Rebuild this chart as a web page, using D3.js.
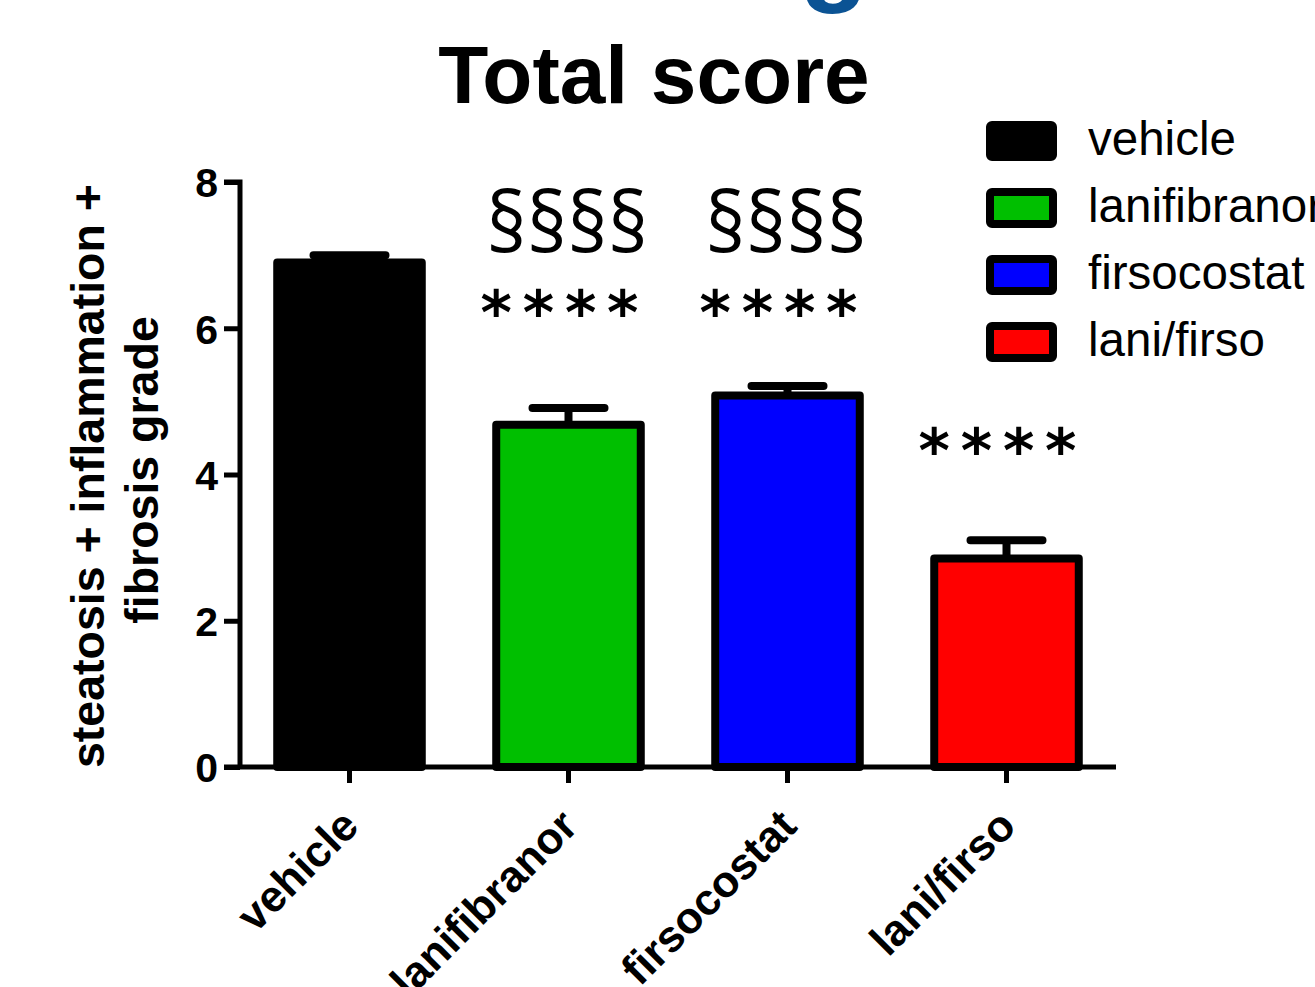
<!DOCTYPE html>
<html>
<head>
<meta charset="utf-8">
<script src="https://cdn.jsdelivr.net/npm/d3@7"></script>
<style>
  html, body { margin: 0; padding: 0; background: #fff; }
  svg { display: block; }
</style>
</head>
<body>
<svg id="chart" width="1315" height="987"></svg>
<script>
// ---- data ----
const categories = ["vehicle", "lanifibranor", "firsocostat", "lani/firso"];
const means = [6.9, 4.68, 5.08, 2.85];
const sems = [0.1, 0.23, 0.13, 0.25];
const colors = ["#000000", "#00bf00", "#0000ff", "#ff0000"];
const yTicks = [0, 2, 4, 6, 8];
const sectionMarks = ["", "§§§§", "§§§§", ""];
const starMarks = ["", "****", "****", "****"];
const sectionLevel = [null, 7.3, 7.3, null];
const starLevel = [null, 6.47, 6.47, 4.58];
const title = "Total score";
const yLabelLines = ["steatosis + inflammation +", "fibrosis grade"];

// ---- layout ----
const svg = d3.select("#chart");
const x0 = 240, x1 = 1116, yBase = 767, yTop = 182;
const x = d3.scaleBand().domain(categories).range([x0, x1]).paddingInner(0.34).paddingOuter(0.17);
const y = d3.scaleLinear().domain([0, 8]).range([yBase, yTop]);
const bold = "'Liberation Sans', Arial, Helvetica, sans-serif";

// fragment of heading above (cropped)
svg.append("text").attr("x", 834).attr("y", -10).attr("text-anchor", "middle")
  .attr("font-family", bold).attr("font-weight", "bold").attr("font-size", 114)
  .attr("fill", "#0b5394").text("g");

// title
svg.append("text").attr("x", 654).attr("y", 103).attr("text-anchor", "middle")
  .attr("font-family", bold).attr("font-weight", "bold").attr("font-size", 82)
  .text(title);

// bars
const bars = svg.append("g");
categories.forEach((c, i) => {
  const bx = x(c), bw = x.bandwidth();
  const top = y(means[i]), et = y(means[i] + sems[i]);
  const cx = bx + bw / 2;
  bars.append("path")
    .attr("d", `M${cx},${top} V${et} M${cx - 36},${et} H${cx + 36}`)
    .attr("stroke", "#000").attr("stroke-width", 8).attr("stroke-linecap", "round").attr("fill", "none");
  bars.append("rect")
    .attr("x", bx).attr("y", top).attr("width", bw).attr("height", yBase - top)
    .attr("fill", colors[i]).attr("stroke", "#000").attr("stroke-width", 8)
    .attr("stroke-linejoin", "round");
});

// axes
const yAxis = d3.axisLeft(y).tickValues(yTicks).tickSize(16).tickPadding(6).tickFormat(d3.format("d"));
const gy = svg.append("g").attr("transform", `translate(${x0},0)`).call(yAxis);
gy.select(".domain").attr("stroke-width", 5).attr("d", `M-16,${yTop}H0V${yBase}`);
gy.selectAll(".tick line").attr("stroke-width", 5);
gy.selectAll(".tick text").attr("font-family", bold).attr("font-weight", "bold").attr("font-size", 41).attr("dy", "0.36em");

const xAxis = d3.axisBottom(x).tickSize(16).tickPadding(10);
const gx = svg.append("g").attr("transform", `translate(0,${yBase})`).call(xAxis);
gx.select(".domain").attr("stroke-width", 5).attr("d", `M${x0 - 16},0H${x1}`);
gx.selectAll(".tick line").attr("stroke-width", 5);
gx.selectAll(".tick text")
  .attr("font-family", bold).attr("font-weight", "bold").attr("font-size", 44)
  .attr("text-anchor", "end").attr("dy", 0)
  .attr("transform", "translate(-7,43) rotate(-45)");

// y label
const yl = svg.append("text").attr("transform", "translate(0,476) rotate(-90)")
  .attr("text-anchor", "middle").attr("font-family", bold).attr("font-weight", "bold").attr("font-size", 46.5);
yl.append("tspan").attr("x", 0).attr("y", 104).text(yLabelLines[0]);
yl.append("tspan").attr("x", 6).attr("y", 158).text(yLabelLines[1]);

// significance marks
const annot = svg.append("g");
categories.forEach((c, i) => {
  const cx = x(c) + x.bandwidth() / 2;
  if (sectionMarks[i]) {
    annot.append("text").attr("x", cx - 1).attr("y", y(sectionLevel[i]) + 20).attr("text-anchor", "middle")
      .attr("font-family", "'Open Sans', sans-serif").attr("font-size", 84)
      .attr("textLength", 162).attr("lengthAdjust", "spacingAndGlyphs").text(sectionMarks[i]);
  }
  if (starMarks[i]) {
    annot.append("text").attr("x", cx - 9).attr("y", y(starLevel[i]) + 40).attr("text-anchor", "middle")
      .attr("font-family", "'DejaVu Sans', sans-serif").attr("font-weight", "bold").attr("font-size", 60)
      .attr("textLength", 158).attr("lengthAdjust", "spacing").text(starMarks[i]);
  }
});

// legend
const lg = svg.append("g");
categories.forEach((c, i) => {
  const ly = 125 + i * 67;
  lg.append("rect").attr("x", 990).attr("y", ly).attr("width", 63).attr("height", 32).attr("rx", 2)
    .attr("fill", colors[i]).attr("stroke", "#000").attr("stroke-width", 8).attr("stroke-linejoin", "round");
  lg.append("text").attr("x", 1088).attr("y", ly + 30)
    .attr("font-family", bold).attr("font-size", 47.5).text(c);
});
</script>
</body>
</html>
